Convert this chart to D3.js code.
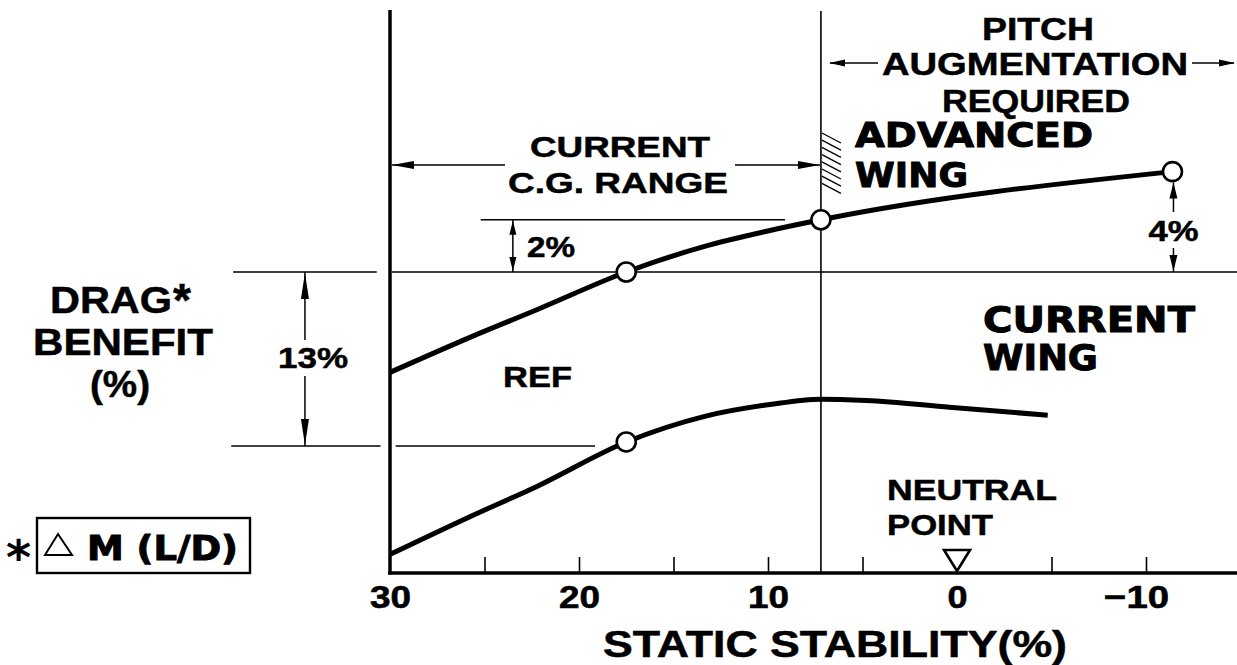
<!DOCTYPE html>
<html><head><meta charset="utf-8">
<script src="https://cdn.jsdelivr.net/npm/d3@7"></script>
<style>html,body{margin:0;padding:0;background:#fff;} svg{display:block;}</style>
</head><body>
<svg id="c" width="1237" height="665"></svg>
<script>
// ---------------- data ----------------
const xTickLabels = [30, 20, 10, 0, -10];
const xMinorTicks = [25, 20, 15, 10, 5, -5, -10];
const advancedX = [30, 25.8, 22.2, 17.5, 13.4, 9.9, 7.2, -11.4];
const advancedY = [-7.5, -4.9, -2.8, 0, 1.9, 3.1, 3.9, 7.5];
const currentX = [30, 25.8, 22.2, 17.5, 13.4, 9.9, 7.2, 4.8, 0.4, -4.8];
const currentY = [-21.1, -18.3, -16.0, -12.7, -10.8, -9.9, -9.5, -9.6, -10.1, -10.7];
const advancedMarkersX = [17.5, 7.2, -11.4];
const advancedMarkersY = [0, 3.9, 7.5];
const currentMarkersX = [17.5];
const currentMarkersY = [-12.7];
const cgAftLimit = 7.2;
const neutralPoint = 0;
const refLevel = 0;        // REF
const lowLevel = -13;      // current wing at ref c.g.  (13%)
const aftLevel = 3.9;      // advanced wing at aft c.g. (2%)
const tipLevel = 7.5;      // advanced wing far aft (4%)
const deltaLabels = ["13%", "2%", "4%"];

// ---------------- setup ----------------
const svg = d3.select("#c");
const x = d3.scaleLinear().domain([30, 0]).range([390, 957]);
const y = d3.scaleLinear().domain([0, -13]).range([272, 446]);
const axisY = 573, topY = 10, rightX = 1237;
const F = "'Liberation Sans', Arial, Helvetica, sans-serif";
const H = "'DejaVu Sans', 'Liberation Sans', sans-serif";

function txt(s, px, py, size, len, opt = {}) {
  const t = svg.append("text").attr("x", px).attr("y", py)
    .attr("font-family", opt.heavy ? H : F).attr("font-weight", "bold")
    .attr("font-size", size).attr("fill", "#000")
    .attr("text-anchor", opt.anchor || "start")
    .attr("stroke", "#000").attr("stroke-width", opt.heavy ? 1.0 : 0.5);
  if (len) t.attr("textLength", len).attr("lengthAdjust", "spacingAndGlyphs");
  t.text(s);
  return t;
}
function line(x1, y1, x2, y2, w) {
  svg.append("line").attr("x1", x1).attr("y1", y1).attr("x2", x2).attr("y2", y2)
    .attr("stroke", "#000").attr("stroke-width", w);
}
function head(tx, ty, dir, len = 16, half = 4) {
  let p;
  if (dir === "up") p = [[tx, ty], [tx - half, ty + len], [tx + half, ty + len]];
  if (dir === "down") p = [[tx, ty], [tx - half, ty - len], [tx + half, ty - len]];
  if (dir === "left") p = [[tx, ty], [tx + len, ty - half], [tx + len, ty + half]];
  if (dir === "right") p = [[tx, ty], [tx - len, ty - half], [tx - len, ty + half]];
  svg.append("path").attr("d", "M" + p.map(d => d.join(",")).join("L") + "Z").attr("fill", "#000");
}

// ---------------- reference lines ----------------
line(x(38.3), y(refLevel), x(30.7), y(refLevel), 1.5);
line(x(29.9), y(refLevel), rightX, y(refLevel), 1.5);
line(x(38.4), y(lowLevel), x(30.5), y(lowLevel), 1.5);
line(x(29.7), y(lowLevel), x(19.15), y(lowLevel), 1.5);
line(x(25.2), y(aftLevel), x(9.1), y(aftLevel), 1.5);

// vertical c.g. limit line
line(x(cgAftLimit), 11, x(cgAftLimit), axisY, 1.6);
// hatch
for (let i = 0; i < 8; i++) {
  const yy = 133 + i * 7.2;
  line(x(cgAftLimit) + 1, yy, x(cgAftLimit) + 20, yy + 10, 1.3);
}

// axes
line(390, topY, 390, axisY + 1.5, 3.5);
line(388, axisY, rightX, axisY, 3.5);
svg.append("g").attr("transform", `translate(0,${axisY})`)
  .call(d3.axisBottom(x).tickValues(xMinorTicks).tickSizeInner(-16).tickSizeOuter(0).tickFormat(""))
  .call(g => g.select(".domain").remove())
  .call(g => g.selectAll(".tick line").attr("stroke", "#000").attr("stroke-width", 1.6));
const lab = svg.append("g").attr("transform", `translate(0,${axisY})`)
  .call(d3.axisBottom(x).tickValues(xTickLabels).tickSize(0).tickPadding(0)
    .tickFormat(d => d < 0 ? "\u2212" + Math.abs(d) : d));
lab.select(".domain").remove();
lab.selectAll(".tick text").attr("font-family", F).attr("font-weight", "bold")
  .attr("font-size", 32).attr("fill", "#000").attr("stroke", "#000").attr("stroke-width", 0.6)
  .attr("dy", 0).attr("y", 35)
  .attr("dx", d => d < 0 ? -10 : 0)
  .attr("textLength", d => d < 0 ? 65 : (d === 0 ? 20 : 41)).attr("lengthAdjust", "spacingAndGlyphs");

// neutral point triangle
svg.append("path")
  .attr("d", `M${x(neutralPoint) - 13},550L${x(neutralPoint) + 13},550L${x(neutralPoint)},571Z`)
  .attr("fill", "#fff").attr("stroke", "#000").attr("stroke-width", 2.6).attr("stroke-linejoin", "miter");

// ---------------- curves ----------------
const lineGen = d3.line().x(d => x(d[0])).y(d => y(d[1])).curve(d3.curveMonotoneX);
svg.append("path").attr("d", lineGen(advancedX.map((v, i) => [v, advancedY[i]])))
  .attr("fill", "none").attr("stroke", "#000").attr("stroke-width", 5).attr("stroke-linecap", "butt");
svg.append("path").attr("d", lineGen(currentX.map((v, i) => [v, currentY[i]])))
  .attr("fill", "none").attr("stroke", "#000").attr("stroke-width", 5).attr("stroke-linecap", "butt");
const markers = advancedMarkersX.map((v, i) => [v, advancedMarkersY[i]])
  .concat(currentMarkersX.map((v, i) => [v, currentMarkersY[i]]));
svg.selectAll("circle.m").data(markers).join("circle").attr("class", "m")
  .attr("cx", d => x(d[0])).attr("cy", d => y(d[1])).attr("r", 9.5)
  .attr("fill", "#fff").attr("stroke", "#000").attr("stroke-width", 2.6);

// ---------------- dimension arrows ----------------
// 13%
const ax13 = x(34.5);
line(ax13, y(refLevel), ax13, 340, 1.5); head(ax13, y(refLevel) + 1, "up", 26, 4);
line(ax13, 376, ax13, y(lowLevel), 1.5); head(ax13, y(lowLevel) - 1, "down", 26, 4);
txt(deltaLabels[0], 313, 368, 30, 70, { anchor: "middle" });
// 2%
const ax2 = x(23.5);
line(ax2, y(aftLevel), ax2, y(refLevel), 1.5);
head(ax2, y(aftLevel) + 1, "up", 14, 3.5); head(ax2, y(refLevel) - 1, "down", 14, 3.5);
txt(deltaLabels[1], 527, 257, 30, 48);
// 4%
const ax4 = x(advancedMarkersX[2]) + 1;
line(ax4, y(tipLevel) + 11, ax4, 212, 1.5); head(ax4, y(tipLevel) + 11, "up", 16, 4);
line(ax4, 248, ax4, y(refLevel), 1.5); head(ax4, y(refLevel) - 1, "down", 16, 4);
txt(deltaLabels[2], ax4, 241, 30, 50, { anchor: "middle" });

// c.g. range arrows
line(392, 165, 505, 165, 1.5); head(392, 165, "left", 22, 4);
line(735, 165, x(cgAftLimit) - 1, 165, 1.5); head(x(cgAftLimit) - 1, 165, "right", 22, 4);
txt("CURRENT", 530, 157, 30, 180);
txt("C.G. RANGE", 508, 193, 30, 220);

// pitch augmentation
line(830, 63, 878, 63, 1.5); head(829, 63, "left", 16, 3.5);
line(1192, 63, 1234, 63, 1.5); head(1235, 63, "right", 16, 3.5);
txt("PITCH", 982, 40, 31, 112);
txt("AUGMENTATION", 882, 75, 31, 306);
txt("REQUIRED", 942, 112, 31, 188);

// wing labels
txt("ADVANCED", 855, 147, 34, 238, { heavy: true });
txt("WING", 855, 187, 34, 113, { heavy: true });
txt("CURRENT", 983, 332, 36, 212, { heavy: true });
txt("WING", 983, 370, 36, 115, { heavy: true });
txt("REF", 503, 387, 30, 69);

// neutral point label
txt("NEUTRAL", 887, 500, 30, 170);
txt("POINT", 887, 535, 30, 106);

// y label
txt("DRAG", 50, 313, 37, 122);
svg.append("text").attr("x", 173).attr("y", 316).attr("font-family", F).attr("font-weight", "bold")
  .attr("font-size", 46).attr("stroke", "#000").attr("stroke-width", 0.5).text("*");
txt("BENEFIT", 33, 355, 37, 180);
txt("(%)", 90, 397, 37, 60);

// x label
txt("STATIC STABILITY(%)", 603, 657, 37, 464);

// legend box
svg.append("rect").attr("x", 37).attr("y", 518).attr("width", 213).attr("height", 55)
  .attr("fill", "none").attr("stroke", "#000").attr("stroke-width", 2.4);
svg.append("text").attr("x", 6).attr("y", 574).attr("font-family", H).attr("font-weight", "bold")
  .attr("font-size", 48).text("*");
svg.append("path").attr("d", "M58,534L72,555L45,555Z").attr("fill", "none")
  .attr("stroke", "#000").attr("stroke-width", 2);
txt("M (L/D)", 87, 560, 34, 151, { heavy: true });
</script>
</body></html>
